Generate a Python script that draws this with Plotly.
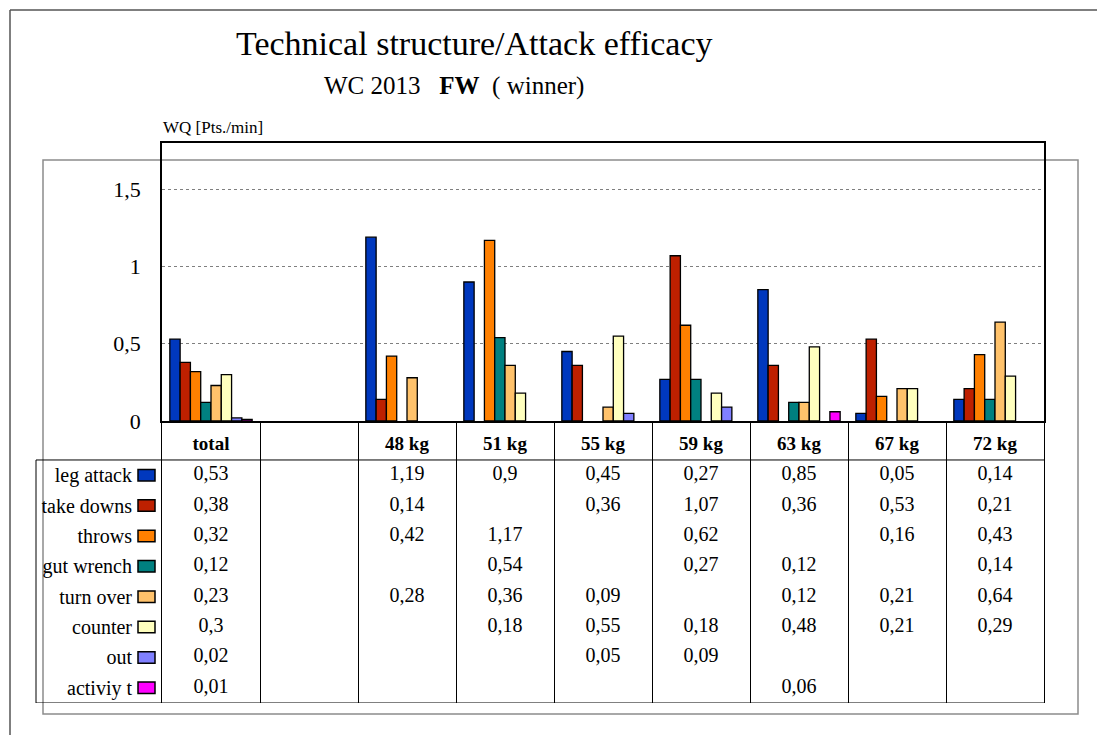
import plotly.graph_objects as go

# chart data
categories = ["total", "", "48 kg", "51 kg", "55 kg", "59 kg", "63 kg", "67 kg", "72 kg"]
series_names = ["leg attack", "take downs", "throws", "gut wrench",
                "turn over", "counter", "out", "activiy t"]

leg_attack = [0.53, None, 1.19, 0.9, 0.45, 0.27, 0.85, 0.05, 0.14]
take_downs = [0.38, None, 0.14, None, 0.36, 1.07, 0.36, 0.53, 0.21]
throws = [0.32, None, 0.42, 1.17, None, 0.62, None, 0.16, 0.43]
gut_wrench = [0.12, None, None, 0.54, None, 0.27, 0.12, None, 0.14]
turn_over = [0.23, None, 0.28, 0.36, 0.09, None, 0.12, 0.21, 0.64]
counter = [0.3, None, None, 0.18, 0.55, 0.18, 0.48, 0.21, 0.29]
out = [0.02, None, None, None, 0.05, 0.09, None, None, None]
activity = [0.01, None, None, None, None, None, 0.06, None, None]

series_values = [leg_attack, take_downs, throws, gut_wrench, turn_over, counter, out, activity]
colors = ["#0038BE", "#BE2000", "#FF8000", "#008080", "#FFC26B", "#FFFFBE", "#8080FF", "#FF00FF"]

y_ticks = [0, 0.5, 1, 1.5]

FONT = "Liberation Serif, Times New Roman, serif"
W, H = 1097, 748
H_SHOWN = 735  # paper height as it ends up on the photographed page


def px_x(p):
    return p / W


def px_y(p):
    return 1 - p / H_SHOWN


def fmt(v):
    if v is None:
        return ""
    return ("%g" % v).replace(".", ",")


xs = list(range(len(categories)))
rows = list(range(1, len(series_names) + 1))

fig = go.Figure()

# bars
for name, vals, col in zip(series_names, series_values, colors):
    fig.add_trace(go.Bar(
        x=xs, y=vals, name=name,
        marker={"color": col, "line": {"color": "black", "width": 1.3}},
        xaxis="x", yaxis="y", showlegend=False,
    ))

# data table: header
fig.add_trace(go.Scatter(
    x=xs, y=[0] * len(xs), mode="text",
    text=["<b>%s</b>" % c if c else "" for c in categories],
    textfont={"family": FONT, "size": 19, "color": "black"},
    xaxis="x2", yaxis="y2", showlegend=False, hoverinfo="skip",
))

# data table: values
for row, vals in zip(rows, series_values):
    fig.add_trace(go.Scatter(
        x=xs, y=[row] * len(xs), mode="text",
        text=[fmt(v) for v in vals],
        textfont={"family": FONT, "size": 20, "color": "black"},
        xaxis="x2", yaxis="y2", showlegend=False, hoverinfo="skip",
    ))

plot_x = [px_x(162), px_x(1044)]

# legend keys next to the row labels
key_shapes = [
    {"type": "rect", "xref": "paper", "yref": "y2",
     "x0": px_x(138), "x1": px_x(155), "y0": row - 0.19, "y1": row + 0.19,
     "fillcolor": col, "line": {"color": "black", "width": 1.5}}
    for row, col in zip(rows, colors)
]

fig.update_layout(
    width=W, height=H, autosize=False,
    margin={"l": 0, "r": 0, "t": 0, "b": 0},
    paper_bgcolor="white", plot_bgcolor="white",
    separators=", ",
    barmode="group", bargap=0.16, bargroupgap=0,
    font={"family": FONT, "color": "black"},
    xaxis={
        "domain": plot_x, "anchor": "y", "range": [-0.5, 8.5],
        "showticklabels": False, "showgrid": False, "zeroline": False,
        "showline": True, "mirror": True, "linecolor": "black", "linewidth": 1.5,
        "fixedrange": True,
    },
    yaxis={
        "domain": [px_y(421), px_y(143)], "anchor": "x", "range": [0, 1.8],
        "tickvals": y_ticks, "ticks": "", "tickfont": {"size": 22},
        "ticklabelstandoff": 15,
        "showgrid": True, "gridcolor": "#7f7f7f", "griddash": "dot", "gridwidth": 1,
        "zeroline": False, "showline": True, "mirror": True,
        "linecolor": "black", "linewidth": 1.5, "fixedrange": True,
    },
    xaxis2={
        "domain": plot_x, "anchor": "y2", "range": [-0.5, 8.5],
        "tickvals": [i - 0.5 for i in range(len(categories) + 1)],
        "showticklabels": False, "ticks": "",
        "showgrid": True, "gridcolor": "black", "gridwidth": 1,
        "zeroline": False, "showline": False, "fixedrange": True,
    },
    yaxis2={
        "domain": [px_y(703), px_y(422)], "anchor": "x2", "range": [8.5, -0.75],
        "tickvals": rows, "ticktext": series_names, "ticks": "",
        "tickfont": {"size": 20}, "ticklabelstandoff": 25,
        "showgrid": False, "zeroline": False,
        "showline": True, "mirror": True, "linecolor": "black", "linewidth": 1,
        "fixedrange": True,
    },
    shapes=[
        # outer frame (only top and left edges are inside the page)
        {"type": "line", "xref": "paper", "yref": "paper",
         "x0": px_x(10), "x1": 1, "y0": px_y(10), "y1": px_y(10),
         "line": {"color": "#555555", "width": 1.5}, "layer": "below"},
        {"type": "line", "xref": "paper", "yref": "paper",
         "x0": px_x(10), "x1": px_x(10), "y0": 0, "y1": px_y(10),
         "line": {"color": "#555555", "width": 1.5}, "layer": "below"},
        # chart area box
        {"type": "rect", "xref": "paper", "yref": "paper",
         "x0": px_x(43), "x1": px_x(1078), "y0": px_y(714), "y1": px_y(160),
         "line": {"color": "#8c8c8c", "width": 1.5}, "layer": "below"},
        # table row box
        {"type": "line", "xref": "paper", "yref": "y2",
         "x0": px_x(36), "x1": plot_x[1], "y0": 0.5, "y1": 0.5,
         "line": {"color": "black", "width": 1}},
        {"type": "line", "xref": "paper", "yref": "y2",
         "x0": px_x(36), "x1": plot_x[1], "y0": 8.5, "y1": 8.5,
         "line": {"color": "black", "width": 1}},
        {"type": "line", "xref": "paper", "yref": "y2",
         "x0": px_x(36), "x1": px_x(36), "y0": 0.5, "y1": 8.5,
         "line": {"color": "black", "width": 1}},
    ] + key_shapes,
    annotations=[
        {"text": "Technical structure/Attack efficacy", "xref": "paper", "yref": "paper",
         "x": px_x(474), "y": px_y(44), "showarrow": False,
         "font": {"size": 34}, "xanchor": "center", "yanchor": "middle"},
        {"text": "WC 2013\u00a0\u00a0\u00a0<b>FW</b>\u00a0\u00a0(\u00a0winner)",
         "xref": "paper", "yref": "paper",
         "x": px_x(454), "y": px_y(86), "showarrow": False,
         "font": {"size": 25}, "xanchor": "center", "yanchor": "middle"},
        {"text": "WQ [Pts./min]", "xref": "paper", "yref": "paper",
         "x": px_x(161), "y": px_y(127), "showarrow": False,
         "font": {"size": 17}, "xanchor": "left", "yanchor": "middle"},
    ],
)

fig.write_html(
    "out.html",
    config={"displayModeBar": False, "responsive": False},
    post_script="document.body.style.margin = '0';",
)
